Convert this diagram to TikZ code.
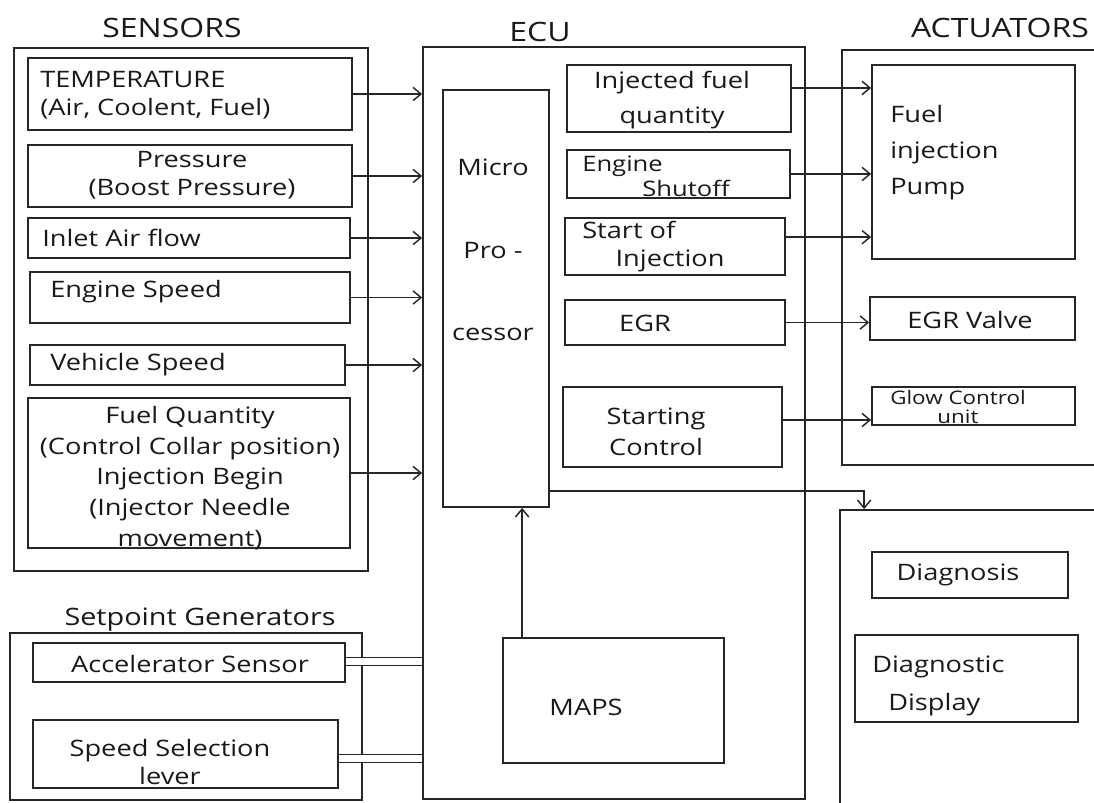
\documentclass[tikz,border=0pt]{standalone}
\usepackage{fontspec}
\setmainfont{Open Sans}[FakeStretch=1.2]
\usetikzlibrary{arrows.meta,fit}
\begin{document}
\begin{tikzpicture}[x=0.75pt,y=-0.75pt,
  box/.style={draw=black!85, line width=1.3pt, inner sep=0pt, fit={#1}},
  frame/.style={draw=black!85, line width=1.3pt, inner sep=0pt, fit={#1}},
  arr/.style={draw=black!85, line width=1.1pt, -{Straight Barb[length=6pt,width=10pt,line width=1.1pt]}},
  dbl/.style={draw=black!85, line width=1pt, double, double distance=5pt},
  txt/.style={font=\fontsize{17}{21}\selectfont, text=black!90, inner sep=0pt},
  ttl/.style={font=\fontsize{20}{24}\selectfont, text=black!90, inner sep=0pt},
]
\useasboundingbox (0,0) rectangle (1094,802);
\clip (0,0) rectangle (1094,802);

% titles
\node[ttl] (tSens) at (172,28) {SENSORS};
\node[ttl] (tEcu) at (540,32) {ECU};
\node[ttl] (tAct) at (1000,28) {ACTUATORS};

% sensors
\node[frame={(14,48) (368,571)}] (sens) {};
\node[box={(28,58) (352,130)}] (temp) {};
\node[txt, align=left, anchor=west] (temptx) at (40,95) {TEMPERATURE\\(Air, Coolent, Fuel)};
\node[box={(28,145) (352,207)}] (pres) {};
\node[txt, align=center] (prestx) at (192,175) {Pressure\\(Boost Pressure)};
\node[box={(28,218) (350,258)}] (inlet) {};
\node[txt, anchor=west] (inlettx) at (42,238) {Inlet Air flow};
\node[box={(30,272) (350,323)}] (engsp) {};
\node[txt, anchor=west] (engsptx) at (50,292) {Engine Speed};
\node[box={(30,345) (345,385)}] (vehsp) {};
\node[txt, anchor=west] (vehsptx) at (50,365) {Vehicle Speed};
\node[box={(28,398) (350,548)}] (fuelq) {};
\node[txt, align=center, font=\fontsize{17}{23}\selectfont] (fuelqtx) at (190,478)
  {Fuel Quantity\\(Control Collar position)\\Injection Begin\\(Injector Needle\\movement)};

% ECU
\node[frame={(423,47) (805,799)}] (ecu) {};
\node[box={(443,90) (549,507)}] (micro) {};
\node[txt, align=center] (microtx) at (493,250) {Micro\\[41pt]Pro -\\[41pt]cessor};
\node[box={(567,65) (791,132)}] (injq) {};
\node[txt, align=center, font=\fontsize{17}{26}\selectfont] (injqtx) at (672,100) {Injected fuel\\quantity};
\node[box={(567,150) (790,198)}] (shut) {};
\node[txt, align=left, anchor=west, font=\fontsize{16}{19}\selectfont] (shuttx) at (582,176) {Engine\\\hspace*{45pt}Shutoff};
\node[box={(565,218) (785,275)}] (soi) {};
\node[txt, align=left, anchor=west] (soitx) at (582,247) {Start of\\\hspace*{25pt}Injection};
\node[box={(565,300) (785,345)}] (egr) {};
\node[txt] (egrtx) at (645,323) {EGR};
\node[box={(563,387) (782,467)}] (stc) {};
\node[txt, align=center, font=\fontsize{17}{23}\selectfont] (stctx) at (656,432) {Starting\\Control};
\node[box={(503,638) (724,763)}] (maps) {};
\node[txt] (mapstx) at (586,707) {MAPS};

% actuators
\node[frame={(842,50) (1110,465)}] (act) {};
\node[box={(872,65) (1075,259)}] (pump) {};
\node[txt, align=left, anchor=west, font=\fontsize{17}{27}\selectfont] (pumptx) at (890,153) {Fuel\\injection\\Pump};
\node[box={(870,297) (1075,340)}] (egrv) {};
\node[txt] (egrvtx) at (970,320) {EGR Valve};
\node[box={(872,387) (1075,425)}] (glow) {};
\node[txt, align=center, font=\fontsize{14}{14}\selectfont] (glowtx) at (958,407) {Glow Control\\unit};

\node[frame={(840,510) (1110,815)}] (diag) {};
\node[box={(872,552) (1068,598)}] (dgs) {};
\node[txt] (dgstx) at (958,575) {Diagnosis};
\node[box={(855,635) (1078,722)}] (disp) {};
\node[txt, align=left, anchor=west, font=\fontsize{17}{28}\selectfont] (disptx) at (872,686) {Diagnostic\\\hspace*{12pt}Display};

% setpoint generators
\node[ttl, font=\fontsize{18}{20}\selectfont] (tSet) at (200,620) {Setpoint Generators};
\node[frame={(10,633) (362,800)}] (setp) {};
\node[box={(33,643) (345,682)}] (acc) {};
\node[txt] (acctx) at (190,664) {Accelerator Sensor};
\node[box={(33,720) (338,788)}] (ssl) {};
\node[txt, align=center] (ssltx) at (170,762) {Speed Selection\\lever};

% connectors: sensors -> ECU
\foreach \s in {temp,pres,inlet,engsp,vehsp,fuelq}
  \draw[arr] (\s.east) -- (\s.east -| ecu.west);

% ECU -> actuators
\draw[arr] ([yshift=7.9pt]injq.east) -- ([yshift=7.9pt]injq.east -| pump.west);
\draw[arr] (shut.east) -- (shut.east -| pump.west);
\draw[arr] ([yshift=7pt]soi.east) -- ([yshift=7pt]soi.east -| pump.west);
\draw[arr] (egr.east) -- (egr.east -| egrv.west);
\draw[arr] ([yshift=5.25pt]stc.east) -- ([yshift=5.25pt]stc.east -| glow.west);
\draw[arr] ([yshift=12.75pt]micro.south east) -| ([xshift=18.75pt]diag.north west);
\draw[arr] ([xshift=15pt]maps.north west) -- ([xshift=15pt]maps.north west |- micro.south);

% setpoint -> ECU
\draw[dbl] ([yshift=0.75pt]acc.east) -- ([yshift=0.75pt]acc.east -| ecu.west);
\draw[dbl] ([yshift=-3.4pt]ssl.east) -- ([yshift=-3.4pt]ssl.east -| ecu.west);
\end{tikzpicture}
\end{document}
